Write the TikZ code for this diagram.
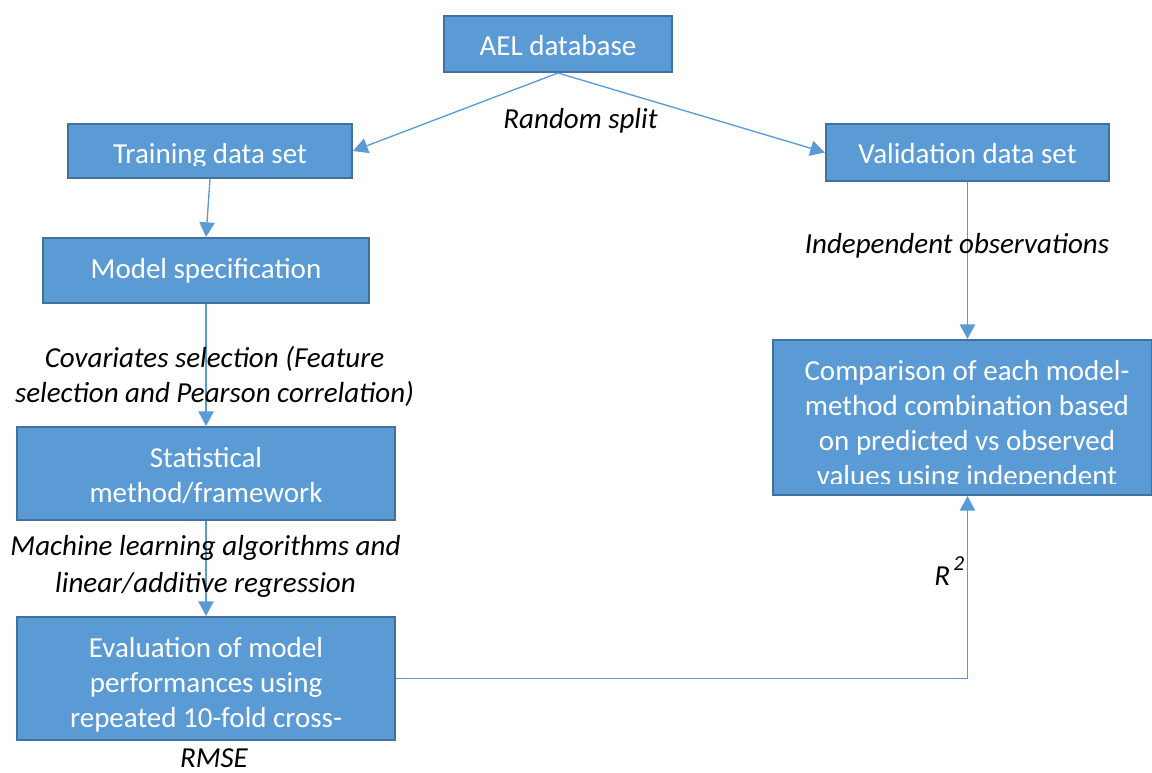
\documentclass[tikz,border=0pt]{standalone}
\usepackage{fontspec}
\setmainfont{Carlito}
\usetikzlibrary{arrows.meta}
\definecolor{boxfill}{HTML}{5B9BD5}
\definecolor{boxline}{HTML}{41719C}
\definecolor{flowline}{HTML}{5B9BD5}
\newcommand\boxfont{\fontsize{21.75pt}{26.25pt}\selectfont}
\newcommand\notefont{\fontsize{21.75pt}{26.25pt}\selectfont\itshape}
\begin{document}
\begin{tikzpicture}[x=0.75pt,y=-0.75pt,
  box/.style={draw=boxline, line width=1.5pt, fill=boxfill, inner sep=0pt},
  boxtext/.style={text=white, font=\boxfont, align=center, inner sep=0pt, anchor=base},
  note/.style={text=black, font=\notefont, align=center, inner sep=0pt, anchor=base},
  flow/.style={draw=flowline, line width=1pt, -{Triangle[length=11pt,width=11.5pt]}}]
\useasboundingbox (0,0) rectangle (1152,772);

% boxes
\node[box, minimum width=171pt,   minimum height=42pt]    (ael)   at (558,44)    {};
\node[box, minimum width=213pt,   minimum height=40.5pt]  (train) at (210,151)   {};
\node[box, minimum width=212.25pt,minimum height=42.75pt] (val)   at (967.5,152.5) {};
\node[box, minimum width=244.5pt, minimum height=48.75pt] (model) at (206,270.5) {};
\node[box, minimum width=283.5pt, minimum height=69.75pt] (stat)  at (206,473.5) {};
\node[box, minimum width=283.5pt, minimum height=92.25pt] (eval)  at (206,678.5) {};
\node[box, minimum width=284pt,   minimum height=116.25pt] (comp) at (962.5,417.5) {};

% box texts (a multi-line node sits on the baseline of its last line)
\node[boxtext] (aeltxt)   at (558,55)    {AEL database};
\begin{scope}
  \clip (70,126) rectangle (350,165);
  \node[boxtext] (traintxt) at (210,163) {Training data set};
\end{scope}
\node[boxtext] (valtxt)   at (967.5,163) {Validation data set};
\node[boxtext] (modeltxt) at (206,278)   {Model specification};
\node[boxtext] (stattxt)  at (206,502)   {Statistical\\method/framework};
\begin{scope}
  \clip (19,619) rectangle (393,731);
  \node[boxtext] (evaltxt) at (206,727) {Evaluation of model\\performances using\\repeated 10-fold cross-};
\end{scope}
\begin{scope}
  \clip (775,342) rectangle (1150,483);
  \node[boxtext] (comptxt) at (967,485) {Comparison of each model-\\method combination based\\on predicted vs observed\\values using independent};
\end{scope}

% connectors
\draw[flow] (ael.south) -- (train.east);
\draw[flow] (ael.south) -- (val.west);
\draw[flow] (train.south) -- (model.north);
\draw[flow] (model.south) -- (stat.north);
\draw[flow] (stat.south) -- (eval.north);
\draw[flow] (val.south) -- (val.south |- comp.north);
\draw[flow] (eval.east) -| (val.south |- comp.south);

% connector notes
\node[note] (split) at (580.5,128) {Random split};
\node[note] (indep) at (957,253)   {Independent observations};
\node[note] (covar) at (214.5,402.5) {Covariates selection (Feature\\selection and Pearson correlation)};
\node[note, font={\itshape\fontsize{21.75pt}{27.5pt}\selectfont}] (mlalg) at (205.5,592)
  {Machine learning algorithms and\\linear/additive regression};
\node[note] (rmse)  at (214,767)   {RMSE};
\node[note, anchor=base west] (rsq) at (934,585)
  {R\kern2.5pt\raisebox{11pt}{\fontsize{16pt}{16pt}\selectfont 2}};
\end{tikzpicture}
\end{document}
